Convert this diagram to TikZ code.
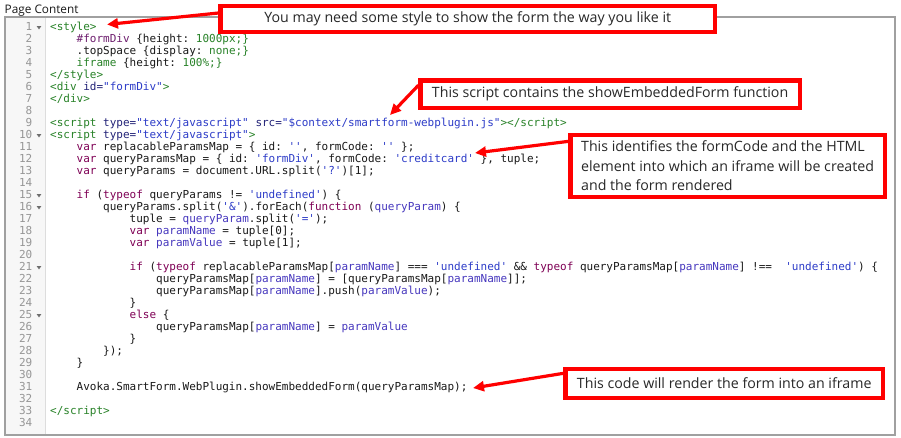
\documentclass[tikz,border=0pt]{standalone}
\usepackage{fontspec}
\setmainfont{Open Sans}
\setmonofont{DejaVu Sans Mono}
\usetikzlibrary{arrows.meta}
\definecolor{tagc}{RGB}{40,130,40}
\definecolor{attrc}{RGB}{35,35,120}
\definecolor{strc}{RGB}{45,60,200}
\definecolor{kwc}{RGB}{127,0,85}
\definecolor{varc}{RGB}{70,55,190}
\definecolor{cssidc}{RGB}{110,30,110}
\definecolor{codec}{RGB}{25,25,25}
\definecolor{lnc}{RGB}{150,150,150}
\definecolor{gutc}{RGB}{247,247,247}
\definecolor{gutline}{RGB}{221,221,221}
\definecolor{framec}{RGB}{160,160,160}
\definecolor{callred}{RGB}{255,0,0}
\definecolor{calltext}{RGB}{40,40,40}
\definecolor{foldc}{RGB}{110,110,110}
\newcommand\cTag[1]{\textcolor{tagc}{#1}}
\newcommand\cAttr[1]{\textcolor{attrc}{#1}}
\newcommand\cStr[1]{\textcolor{strc}{#1}}
\newcommand\cKw[1]{\textcolor{kwc}{#1}}
\newcommand\cVar[1]{\textcolor{varc}{#1}}
\newcommand\codeln[3]{%
  \node[lnum] (n#1) at (32.5,{30.5+12*(#1-1)}) {#1};
  \node[code] (l#1) at ({50+6.6226*#2},{30.5+12*(#1-1)}) {#3};}
\newcommand\lnonly[1]{\node[lnum] (n#1) at (32.5,{30.5+12*(#1-1)}) {#1};}
\newcommand\foldmark[1]{\fill[foldc] (36.6,{27.6+12*(#1-1)-1.6}) -- ++(4.8,0) -- ++(-2.4,3.4) -- cycle;}
\begin{document}
\begin{tikzpicture}[x=1pt,y=-1pt,
  code/.style={anchor=base west,inner sep=0pt,text=codec,font=\fontsize{11}{12}\ttfamily},
  lnum/.style={anchor=base east,inner sep=0pt,text=lnc,font=\fontsize{11}{12}\ttfamily},
  callout/.style={draw=callred,line width=4.2pt,fill=white,inner sep=0pt,text=calltext,
    font=\fontsize{14.2}{19.5}\selectfont},
  callarrow/.style={draw=callred,line width=3.2pt,-{Triangle[length=11pt,width=10pt]}}]
\useasboundingbox (0,0) rectangle (901,437);
\fill[white] (0,0) rectangle (901,437);
% page content label and editor frame
\node[anchor=base west,inner sep=0pt,text=codec,font=\fontsize{11.8}{14}\selectfont] (pc) at (4.5,13.5) {Page Content};
\fill[gutc] (5.5,17.5) rectangle (45,434.5);
\draw[gutline,line width=1pt] (45,17.5) -- (45,434.5);
\draw[framec,line width=1.2pt] (5,17) rectangle (895,435);
% code
\codeln{1}{0}{\cTag{<style>}}
\codeln{2}{4}{\textcolor{cssidc}{\#formDiv} \{height: \cTag{1000px;\}}}
\codeln{3}{4}{.topSpace \{display: \cTag{none;\}}}
\codeln{4}{4}{\cTag{iframe} \{height: \cTag{100\%;\}}}
\codeln{5}{0}{\cTag{</style>}}
\codeln{6}{0}{\cTag{<div} \cAttr{id=}\cStr{"formDiv"}\cTag{>}}
\codeln{7}{0}{\cTag{</div>}}
\lnonly{8}
\codeln{9}{0}{\cTag{<script} \cAttr{type=}\cStr{"text/javascript"} \cAttr{src=}\cStr{"\$context/smartform-webplugin.js"}\cTag{></script>}}
\codeln{10}{0}{\cTag{<script} \cAttr{type=}\cStr{"text/javascript"}\cTag{>}}
\codeln{11}{4}{\cKw{var} replacableParamsMap = \{ id: \cStr{''}, formCode: \cStr{''} \};}
\codeln{12}{4}{\cKw{var} queryParamsMap = \{ id: \cStr{'formDiv'}, formCode: \cStr{'creditcard'} \}, tuple;}
\codeln{13}{4}{\cKw{var} queryParams = document.URL.split(\cStr{'?'})[1];}
\lnonly{14}
\codeln{15}{4}{\cKw{if} (\cKw{typeof} queryParams != \cStr{'undefined'}) \{}
\codeln{16}{8}{queryParams.split(\cStr{'\&'}).forEach(\cKw{function} (\cVar{queryParam}) \{}
\codeln{17}{12}{tuple = \cVar{queryParam}.split(\cStr{'='});}
\codeln{18}{12}{\cKw{var} \cVar{paramName} = tuple[0];}
\codeln{19}{12}{\cKw{var} \cVar{paramValue} = tuple[1];}
\lnonly{20}
\codeln{21}{12}{\cKw{if} (\cKw{typeof} replacableParamsMap[\cVar{paramName}] === \cStr{'undefined'} \&\& \cKw{typeof} queryParamsMap[\cVar{paramName}] !==\ \ \cStr{'undefined'}) \{}
\codeln{22}{16}{queryParamsMap[\cVar{paramName}] = [queryParamsMap[\cVar{paramName}]];}
\codeln{23}{16}{queryParamsMap[\cVar{paramName}].push(\cVar{paramValue});}
\codeln{24}{12}{\}}
\codeln{25}{12}{\cKw{else} \{}
\codeln{26}{16}{queryParamsMap[\cVar{paramName}] = \cVar{paramValue}}
\codeln{27}{12}{\}}
\codeln{28}{8}{\});}
\codeln{29}{4}{\}}
\lnonly{30}
\codeln{31}{4}{Avoka.SmartForm.WebPlugin.showEmbeddedForm(queryParamsMap);}
\lnonly{32}
\codeln{33}{0}{\cTag{</script>}}
\lnonly{34}
\foldmark{1}\foldmark{10}\foldmark{15}\foldmark{16}\foldmark{21}\foldmark{25}
% callouts
\node[callout,minimum width=494.5pt,minimum height=26pt] (b1) at (467.75,19) {You may need some style to show the form the way you like it};
\node[callout,minimum width=379.2pt,minimum height=27.5pt] (b2) at (610.1,94.25) {This script contains the showEmbeddedForm function};
\node[callout,minimum width=314.2pt,minimum height=62.3pt,align=left] (b3) at (727.6,165.85) {This identifies the formCode and the HTML\\element into which an iframe will be created\\and the form rendered};
\node[callout,minimum width=317.3pt,minimum height=29pt] (b4) at (724.2,383.3) {This code will render the form into an iframe};
\coordinate (t1) at (107,24.5);
\coordinate (t2) at (390,115);
\coordinate (t3) at (475,153);
\coordinate (t4) at (473,388);
\draw[callarrow] ([yshift=6pt]b1.west) -- (t1);
\draw[callarrow] ([yshift=9pt]b2.west) -- (t2);
\draw[callarrow] ([yshift=24.5pt]b3.west) -- (t3);
\draw[callarrow] ([yshift=10pt]b4.west) -- (t4);
\end{tikzpicture}
\end{document}
